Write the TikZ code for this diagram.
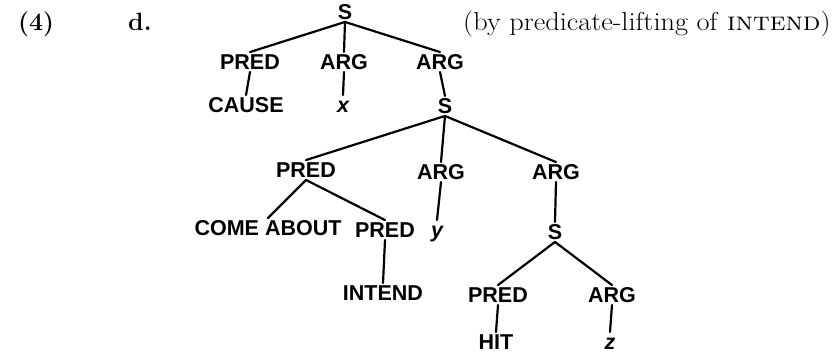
\documentclass[tikz,border=0pt]{standalone}
\usepackage{fontspec}
\newfontfamily\treefont{Liberation Sans}
\begin{document}
\begin{tikzpicture}[x=1pt,y=-1pt,
  tn/.style={font=\treefont\bfseries\fontsize{21.5}{24}\selectfont, text height=15.5pt, text depth=0pt,
             inner xsep=1pt, inner ysep=2pt, anchor=center},
  var/.style={tn, font=\treefont\bfseries\itshape\fontsize{21.5}{24}\selectfont},
  br/.style={line width=2.2pt, line cap=round}]
\useasboundingbox (0,0) rectangle (839,353);
% labels
\node[font=\bfseries\fontsize{25}{28}\selectfont, anchor=base west, inner sep=0pt] (num) at (18,31) {(4)};
\node[font=\bfseries\fontsize{25}{28}\selectfont, anchor=base west, inner sep=0pt] (sub) at (128,31) {d.};
\node[font=\fontsize{26}{30}\selectfont, anchor=base west, inner sep=0pt, xscale=1.09] (title) at (463,31) {(by predicate-lifting of \textsc{intend})};
% tree nodes
\node[tn] (s1) at (345,12) {S};
\node[tn] (p1) at (250,62) {PRED};
\node[tn] (a1) at (344,62) {ARG};
\node[tn] (a2) at (440,62) {ARG};
\node[tn] (cause) at (246,105) {CAUSE};
\node[var] (xx) at (343,105) {x};
\node[tn] (s2) at (445,106) {S};
\node[tn] (p2) at (306,170) {PRED};
\node[tn] (a3) at (441,172) {ARG};
\node[tn] (a4) at (556,172) {ARG};
\node[tn] (come) at (268,228) {COME ABOUT};
\node[tn] (p3) at (385,230) {PRED};
\node[var] (yy) at (437,230) {y};
\node[tn] (s3) at (555,232) {S};
\node[tn] (intend) at (383,293) {INTEND};
\node[tn] (p4) at (498,295) {PRED};
\node[tn] (a5) at (612,295) {ARG};
\node[tn] (hit) at (496,342) {HIT};
\node[var] (zz) at (610,342) {z};
% branches
\draw[br] (s1.south) -- (p1.north);
\draw[br] (s1.south) -- (a1.north);
\draw[br] (s1.south) -- (a2.north);
\draw[br] (p1.south) -- (cause.north);
\draw[br] (a1.south) -- (xx.north);
\draw[br] (a2.south) -- (s2.north);
\draw[br] (s2.south) -- (p2.north);
\draw[br] (s2.south) -- (a3.north);
\draw[br] (s2.south) -- (a4.north);
\draw[br] (p2.south) -- (come.north);
\draw[br] (p2.south) -- (p3.north);
\draw[br] (a3.south) -- (yy.north);
\draw[br] (a4.south) -- (s3.north);
\draw[br] (p3.south) -- (intend.north);
\draw[br] (s3.south) -- (p4.north);
\draw[br] (s3.south) -- (a5.north);
\draw[br] (p4.south) -- (hit.north);
\draw[br] (a5.south) -- (zz.north);
\end{tikzpicture}
\end{document}
